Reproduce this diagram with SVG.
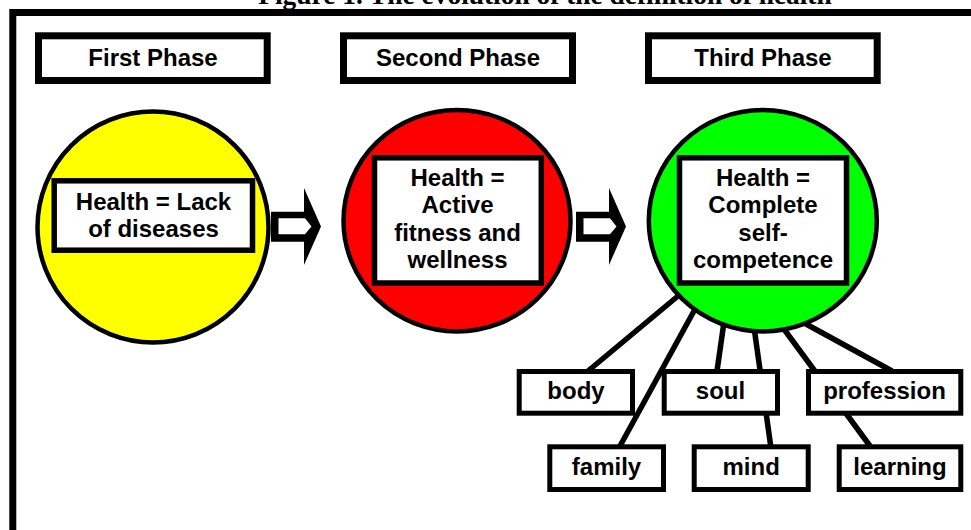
<svg xmlns="http://www.w3.org/2000/svg" width="971" height="530" viewBox="0 0 971 530">
<style>
.t{font-family:"Liberation Sans",Arial,sans-serif;font-weight:bold;font-size:24px;fill:#000;text-anchor:middle}
.title{font-family:"Liberation Serif","Times New Roman",serif;font-weight:bold;font-size:27.4px;fill:#000;text-anchor:middle}
.phase{fill:#fff;stroke:#000;stroke-width:7}
.inner{fill:#fff;stroke:#000;stroke-width:5.5}
.leaf{fill:#fff;stroke:#000;stroke-width:5}
.circ{stroke:#000;stroke-width:4.5}
.ln{stroke:#000;stroke-width:5.5;fill:none}
</style>
<defs>
<g id="arrowShape">
<polygon points="0,211.7 33,211.7 33,188 50,226.5 33,265 33,241.7 0,241.7" fill="#000"/>
<polygon points="7.5,218.3 34,218.3 40.5,226.5 34,234.3 7.5,234.3" fill="#fff"/>
</g>
</defs>
<rect x="0" y="0" width="971" height="530" fill="#fff"/>
<text class="title" x="545" y="4">Figure 1. The evolution of the definition of health</text>
<rect x="12.8" y="12.5" width="1000" height="600" fill="none" stroke="#000" stroke-width="7"/>

<g id="phase1"><rect class="phase" x="38.5" y="35.8" width="228.7" height="44.7"/><text class="t" x="153" y="66">First Phase</text></g>
<g id="phase2"><rect class="phase" x="343.5" y="35.8" width="229" height="44.7"/><text class="t" x="458" y="66">Second Phase</text></g>
<g id="phase3"><rect class="phase" x="648.5" y="35.8" width="228.7" height="44.7"/><text class="t" x="763" y="66">Third Phase</text></g>

<g id="connectors">
<line class="ln" x1="588" y1="371" x2="690" y2="286"/>
<line class="ln" x1="620" y1="446" x2="700" y2="300"/>
<line class="ln" x1="717" y1="371" x2="725" y2="315"/>
<line class="ln" x1="770.7" y1="446" x2="753" y2="320"/>
<line class="ln" x1="870" y1="446" x2="778" y2="321"/>
<line class="ln" x1="892" y1="371" x2="795" y2="318"/>
</g>

<g id="phase1-circle">
<circle class="circ" cx="153" cy="227" r="115.5" fill="#ffff00"/>
<rect class="inner" x="54.2" y="180.8" width="198.3" height="69.4"/>
<text class="t" x="153.5" y="210">Health = Lack</text>
<text class="t" x="153.5" y="236.7">of diseases</text>
</g>
<g id="phase2-circle">
<ellipse class="circ" cx="457" cy="220.7" rx="113.5" ry="110.7" fill="#ff0000"/>
<rect class="inner" x="374.5" y="157.8" width="166.8" height="125.2"/>
<text class="t" x="457.5" y="185.7">Health =</text>
<text class="t" x="457.5" y="213.2">Active</text>
<text class="t" x="457.5" y="240.7">fitness and</text>
<text class="t" x="457.5" y="268.2">wellness</text>
</g>
<g id="phase3-circle">
<ellipse class="circ" cx="762.8" cy="220.7" rx="114" ry="110.7" fill="#00ff00"/>
<rect class="inner" x="679.5" y="157.8" width="167" height="125.2"/>
<text class="t" x="763" y="185.7">Health =</text>
<text class="t" x="763" y="213.2">Complete</text>
<text class="t" x="763" y="240.7">self-</text>
<text class="t" x="763" y="268.2">competence</text>
</g>

<g id="arrow1"><use href="#arrowShape" transform="translate(271,0)"/></g>
<g id="arrow2"><use href="#arrowShape" transform="translate(576,0)"/></g>

<g id="body"><rect class="leaf" x="519.2" y="371.5" width="113.3" height="41.7"/><text class="t" x="576" y="399.3">body</text></g>
<g id="soul"><rect class="leaf" x="664.2" y="371.5" width="113.3" height="41.7"/><text class="t" x="720.5" y="399.3">soul</text></g>
<g id="profession"><rect class="leaf" x="808.5" y="371.5" width="152.3" height="41.7"/><text class="t" x="884.5" y="399.3">profession</text></g>
<g id="family"><rect class="leaf" x="549.8" y="446.8" width="113.7" height="42.7"/><text class="t" x="606.5" y="475">family</text></g>
<g id="mind"><rect class="leaf" x="694.2" y="446.8" width="114" height="42.7"/><text class="t" x="751.2" y="475">mind</text></g>
<g id="learning"><rect class="leaf" x="839.2" y="446.8" width="121.6" height="42.7"/><text class="t" x="900" y="475">learning</text></g>
</svg>
